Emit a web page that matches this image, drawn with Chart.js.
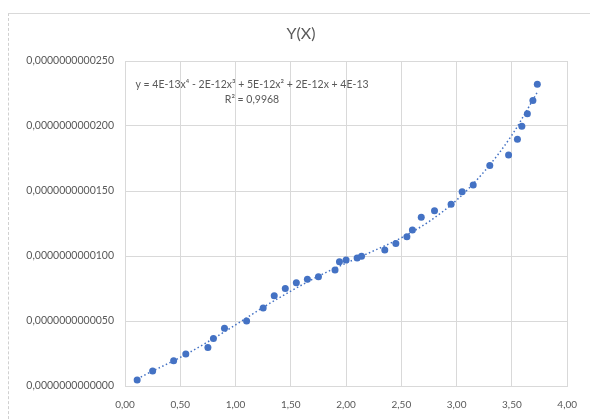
<!DOCTYPE html>
<html lang="fr">
<head>
  <meta charset="UTF-8" />
  <title>Y(X)</title>
  <style>
    html, body {
      margin: 0;
      padding: 0;
      background: #fff;
      overflow: hidden;
    }
    #frame {
      position: absolute;
      left: 8px;
      top: 13px;
      width: 600px;
      height: 420px;
      border-top: 1px solid #d9d9d9;
      border-left: 1px dashed #d0d0d0;
    }
    #chart {
      position: absolute;
      left: 0;
      top: 0;
    }
  </style>
  <script src="https://cdn.jsdelivr.net/npm/chart.js"></script>
</head>
<body>

<div id="frame"></div>
<canvas id="chart" width="590" height="419"></canvas>

<script>
  // valeurs en unités de 1E-12
  const xValues = [0.11, 0.25, 0.44, 0.55, 0.75, 0.80, 0.90, 1.10, 1.25, 1.35, 1.45, 1.55,
                   1.65, 1.75, 1.90, 1.94, 2.00, 2.10, 2.14, 2.35, 2.45, 2.55, 2.60, 2.68,
                   2.80, 2.95, 3.05, 3.15, 3.30, 3.47, 3.55, 3.59, 3.64, 3.69, 3.73];
  const yValues = [0.46, 1.15, 1.94, 2.47, 2.96, 3.65, 4.44, 5.00, 6.00, 6.94, 7.50, 7.94,
                   8.22, 8.40, 8.93, 9.55, 9.70, 9.85, 9.98, 10.46, 10.97, 11.49, 12.00, 12.99,
                   13.48, 13.99, 14.95, 15.47, 16.97, 17.76, 18.98, 19.98, 20.95, 21.97, 23.22];

  // courbe de tendance (polynomiale)
  const trendX = [0.11, 0.25, 0.50, 0.75, 1.00, 1.25, 1.50, 1.75, 2.00, 2.25, 2.50, 2.75, 3.00, 3.25, 3.50, 3.73];
  const trendY = [0.55, 1.15, 2.20, 3.40, 4.70, 6.05, 7.30, 8.45, 9.45, 10.40, 11.40, 12.65, 14.30, 16.50, 19.30, 22.60];

  const xTicks = [0, 0.5, 1, 1.5, 2, 2.5, 3, 3.5, 4];
  const yTicks = [0, 5, 10, 15, 20, 25];

  const titre = "Y(X)";
  const equation = "y = 4E-13x⁴ - 2E-12x³ + 5E-12x² + 2E-12x + 4E-13";
  const rSquared = "R² = 0,9968";

  const BLEU = '#4472C4';
  const GRIS = '#595959';
  const GRILLE = '#d9d9d9';
  const POLICE = "Lato, 'Liberation Sans', Arial, sans-serif";

  Chart.defaults.font.family = POLICE;
  Chart.defaults.color = GRIS;

  // titre + équation de la courbe de tendance
  const textesPlugin = {
    id: 'textes',
    afterDraw(chart) {
      const ctx = chart.ctx;
      const a = chart.chartArea;
      ctx.save();
      ctx.fillStyle = GRIS;
      ctx.textAlign = 'center';
      ctx.textBaseline = 'middle';
      ctx.font = "16px " + POLICE;
      ctx.fillText(titre, 301, 34);
      ctx.font = "10.5px " + POLICE;
      ctx.fillText(equation, a.left + 127, a.top + 24);
      ctx.fillText(rSquared, a.left + 127, a.top + 39);
      ctx.restore();
    }
  };

  const pts = xValues.map((x, i) => ({ x: x, y: yValues[i] }));
  const trend = trendX.map((x, i) => ({ x: x, y: trendY[i] }));

  new Chart(document.getElementById('chart').getContext('2d'), {
    type: 'scatter',
    data: {
      datasets: [
        {
          label: 'Y',
          data: pts,
          backgroundColor: BLEU,
          borderColor: BLEU,
          pointRadius: 3.5,
          pointHoverRadius: 3.5,
          borderWidth: 0
        },
        {
          label: 'Poly. (Y)',
          data: trend,
          showLine: true,
          pointRadius: 0,
          borderColor: BLEU,
          borderWidth: 1.5,
          borderDash: [1.5, 2.5],
          cubicInterpolationMode: 'monotone',
          fill: false
        }
      ]
    },
    options: {
      responsive: false,
      animation: false,
      layout: { padding: { left: 0, right: 22, top: 61, bottom: 0 } },
      plugins: {
        legend: { display: false },
        tooltip: { enabled: false },
        title: { display: false }
      },
      scales: {
        x: {
          type: 'linear',
          min: 0,
          max: 4,
          afterBuildTicks: (s) => { s.ticks = xTicks.map(v => ({ value: v })); },
          afterFit: (s) => { s.height = 33; },
          grid: { color: GRILLE, drawTicks: false },
          border: { color: GRILLE },
          ticks: {
            padding: 13,
            font: { size: 10 },
            callback: (v) => v.toFixed(2).replace('.', ',')
          }
        },
        y: {
          min: 0,
          max: 25,
          afterBuildTicks: (s) => { s.ticks = yTicks.map(v => ({ value: v })); },
          afterFit: (s) => { s.width = 125; },
          grid: { color: GRILLE, drawTicks: false },
          border: { color: GRILLE },
          ticks: {
            padding: 11,
            font: { size: 10.5 },
            callback: (v) => (v * 1e-12).toFixed(13).replace('.', ',')
          }
        }
      }
    },
    plugins: [textesPlugin]
  });
</script>

</body>
</html>
